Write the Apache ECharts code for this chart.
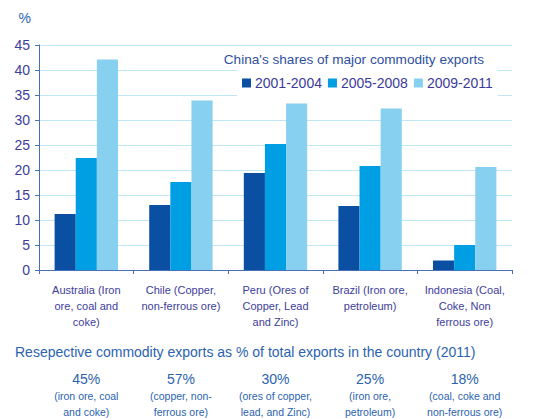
<!DOCTYPE html>
<html><head><meta charset="utf-8">
<script src="https://cdn.jsdelivr.net/npm/echarts@6/dist/echarts.min.js"></script>
<style>html,body{margin:0;padding:0;background:#fff}#c{width:533px;height:418px}</style>
</head><body><div id="c"></div>
<script>
var categories = ['Australia (Iron\nore, coal and\ncoke)', 'Chile (Copper,\nnon-ferrous ore)', 'Peru (Ores of\nCopper, Lead\nand Zinc)', 'Brazil (Iron ore,\npetroleum)', 'Indonesia (Coal,\nCoke, Non\nferrous ore)'];
var seriesNames = ['2001-2004', '2005-2008', '2009-2011'];
var s2001 = [11.2, 13.0, 19.4, 12.8, 1.9];
var s2005 = [22.4, 17.6, 25.2, 20.8, 5.0];
var s2009 = [42.1, 33.9, 33.3, 32.3, 20.6];
var shares = ['45%', '57%', '30%', '25%', '18%'];
var shareNotes = ['(iron ore, coal\nand coke)', '(copper, non-\nferrous ore)', '(ores of copper,\nlead, and Zinc)', '(iron ore,\npetroleum)', '(coal, coke and\nnon-ferrous ore)'];
var yTicks = [0, 5, 10, 15, 20, 25, 30, 35, 40, 45];

var colors = ['#0b4fa3', '#009fe3', '#88d0f0'];
var chart = echarts.init(document.getElementById('c'), null, {renderer: 'svg'});
var font = 'Liberation Sans, Arial, sans-serif';

function labelFor(v, idx) {
  var lines = v.split('\n');
  while (lines.length < 3) lines.push('');
  var out = lines.map(function (l) { return '{a|' + l + '}'; });
  out.push('{gap|}');
  out.push('{p|' + shares[idx] + '}');
  shareNotes[idx].split('\n').forEach(function (l) { out.push('{s|' + l + '}'); });
  return out.join('\n');
}

chart.setOption({
  animation: false,
  color: colors,
  grid: {left: 39, right: 21, top: 45, bottom: 148},
  title: {
    text: "China's shares of major commodity exports",
    right: 44, top: 47,
    textStyle: {color: '#2f4f9f', fontSize: 13.6, fontWeight: 'normal', fontFamily: font}
  },
  legend: {
    data: seriesNames,
    left: 237, top: 70,
    width: 260,
    backgroundColor: '#ffffff',
    padding: [6, 5, 6, 5],
    itemWidth: 9, itemHeight: 9, itemGap: 6,
    icon: 'rect',
    textStyle: {color: '#3b3b9b', fontSize: 14, fontFamily: font, padding: [0, 0, 0, -1]}
  },
  xAxis: {
    type: 'category',
    data: categories,
    axisLine: {lineStyle: {color: '#4a6fb5', width: 1}},
    axisTick: {show: true, alignWithLabel: false, length: 4, lineStyle: {color: '#4a6fb5'}},
    axisLabel: {
      interval: 0, margin: 12,
      formatter: labelFor,
      rich: {
        a: {color: '#3d3d9b', fontSize: 11, lineHeight: 16, fontFamily: font},
        gap: {fontSize: 10, lineHeight: 40},
        p: {color: '#2b63b0', fontSize: 14, lineHeight: 18, fontFamily: font},
        s: {color: '#2b63b0', fontSize: 10.5, lineHeight: 16, fontFamily: font}
      }
    }
  },
  yAxis: {
    type: 'value', min: 0, max: 45, interval: 5,
    name: '%', nameLocation: 'end', nameGap: 20,
    nameTextStyle: {color: '#2b63b0', fontSize: 14, fontFamily: font, align: 'right', padding: [0, 8, 0, 0]},
    axisLine: {show: true, lineStyle: {color: '#4a6fb5'}},
    axisTick: {show: true, length: 4, lineStyle: {color: '#4a6fb5'}},
    axisLabel: {color: '#3d3d9b', fontSize: 14, fontFamily: font, margin: 9,
      formatter: function (v) { return yTicks.indexOf(v) >= 0 ? String(v) : ''; }},
    splitLine: {lineStyle: {color: '#bfe7f6', width: 1}}
  },
  graphic: [{
    type: 'text', left: 15, top: 345,
    style: {text: 'Resepective commodity exports as % of total exports in the country (2011)',
      fill: '#2b63b0', font: '14px ' + font}
  }],
  series: [
    {name: seriesNames[0], type: 'bar', data: s2001, barGap: '0%', barCategoryGap: '33%'},
    {name: seriesNames[1], type: 'bar', data: s2005, barGap: '0%', barCategoryGap: '33%'},
    {name: seriesNames[2], type: 'bar', data: s2009, barGap: '0%', barCategoryGap: '33%'}
  ]
});
</script></body></html>
